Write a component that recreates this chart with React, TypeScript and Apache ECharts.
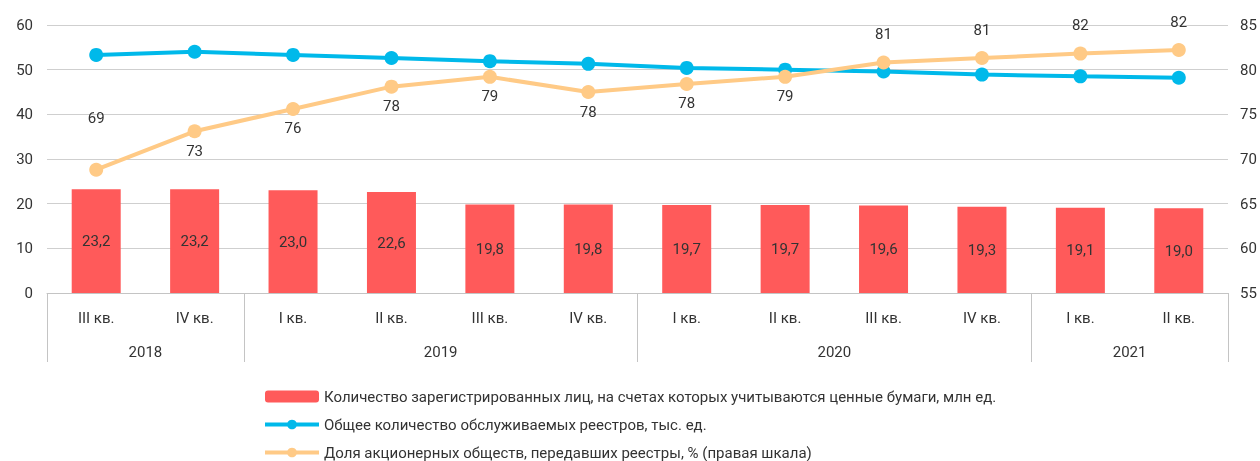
import React, { useEffect, useRef } from 'react';
import * as echarts from 'echarts';

const quarters = ['III кв.', 'IV кв.', 'I кв.', 'II кв.', 'III кв.', 'IV кв.', 'I кв.', 'II кв.', 'III кв.', 'IV кв.', 'I кв.', 'II кв.'];
const years = ['2018', '2019', '2020', '2021'];
const quartersPerYear = [2, 4, 4, 2];

const holders = [23.2, 23.2, 23.0, 22.6, 19.8, 19.8, 19.7, 19.7, 19.6, 19.3, 19.1, 19.0];
const registries = [53.3, 54.0, 53.3, 52.6, 51.9, 51.3, 50.4, 50.0, 49.6, 48.9, 48.5, 48.2];
const shareJSC = [68.8, 73.1, 75.6, 78.1, 79.2, 77.5, 78.4, 79.2, 80.8, 81.3, 81.8, 82.2];
const shareLabelAbove = [true, false, false, false, false, false, false, false, true, true, true, true];

const seriesNames = [
  'Количество зарегистрированных лиц, на счетах которых учитываются ценные бумаги, млн ед.',
  'Общее количество обслуживаемых реестров, тыс. ед.',
  'Доля акционерных обществ, передавших реестры, % (правая шкала)',
];

const FONT = 'Roboto';
const TEXT = '#333333';
const GRIDC = '#cfcfcf';
const AXISC = '#c4c4c4';

export default function App() {
  const ref = useRef<HTMLDivElement>(null);
  useEffect(() => {
    if (!ref.current) return;
    const chart = echarts.init(ref.current, null, { renderer: 'svg' });

    const boundaries: number[] = [0];
    quartersPerYear.forEach((c) => boundaries.push(boundaries[boundaries.length - 1] + c));
    const centers = quartersPerYear.map((c, i) => boundaries[i] + c / 2);

    chart.setOption({
      animation: false,
      textStyle: { fontFamily: FONT },
      grid: { left: 47, right: 32, top: 25, bottom: 168, containLabel: false },
      legend: {
        orient: 'vertical',
        left: 263,
        top: 389,
        height: 200,
        padding: 0,
        itemWidth: 54,
        itemHeight: 12,
        itemGap: 13,
        lineStyle: { width: 4 },
        textStyle: { fontFamily: FONT, fontSize: 15, color: TEXT, lineHeight: 12 },
        data: seriesNames,
      },
      xAxis: [
        {
          type: 'category',
          data: quarters,
          axisLine: { show: true, lineStyle: { color: AXISC, width: 1 } },
          axisTick: { show: false },
          axisLabel: { color: TEXT, fontSize: 15, fontFamily: FONT, margin: 17 },
        },
        {
          type: 'value',
          min: 0,
          max: boundaries[boundaries.length - 1],
          position: 'bottom',
          axisLine: { show: false },
          splitLine: { show: false },
          axisTick: { show: true, customValues: boundaries, length: 69, lineStyle: { color: AXISC } },
          axisLabel: {
            customValues: centers,
            color: TEXT,
            fontSize: 15,
            fontFamily: FONT,
            margin: 51,
            formatter: (v: number) => {
              const i = centers.indexOf(v);
              return i >= 0 ? years[i] : '';
            },
          },
        },
      ],
      yAxis: [
        {
          type: 'value',
          min: 0,
          max: 60,
          interval: 10,
          axisLine: { show: false },
          axisTick: { show: false },
          splitLine: { lineStyle: { color: GRIDC } },
          axisLabel: { color: TEXT, fontSize: 15, fontFamily: FONT, margin: 14 },
        },
        {
          type: 'value',
          min: 55,
          max: 85,
          interval: 5,
          position: 'right',
          axisLine: { show: false },
          axisTick: { show: false },
          splitLine: { show: false },
          axisLabel: { color: TEXT, fontSize: 15, fontFamily: FONT, margin: 12 },
        },
      ],
      series: [
        {
          name: seriesNames[0],
          type: 'bar',
          xAxisIndex: 0,
          yAxisIndex: 0,
          data: holders,
          barWidth: 49,
          itemStyle: { color: '#FF5A5A' },
          label: {
            show: true,
            position: 'inside',
            color: TEXT,
            fontSize: 15,
            fontFamily: FONT,
            formatter: (p: any) => p.value.toFixed(1).replace('.', ','),
          },
        },
        {
          name: seriesNames[1],
          type: 'line',
          xAxisIndex: 0,
          yAxisIndex: 0,
          data: registries,
          symbol: 'circle',
          symbolSize: 14,
          lineStyle: { color: '#00B9EA', width: 4 },
          itemStyle: { color: '#00B9EA' },
          z: 3,
        },
        {
          name: seriesNames[2],
          type: 'line',
          xAxisIndex: 0,
          yAxisIndex: 1,
          symbol: 'circle',
          symbolSize: 14,
          lineStyle: { color: '#FFCA86', width: 4 },
          itemStyle: { color: '#FFCA86' },
          z: 4,
          data: shareJSC.map((v, i) => ({
            value: v,
            label: {
              show: true,
              position: shareLabelAbove[i] ? 'top' : 'bottom',
              distance: i === 0 ? 37 : shareLabelAbove[i] ? 14 : 5,
              color: TEXT,
              fontSize: 15,
              fontFamily: FONT,
              formatter: (p: any) => String(Math.round(p.value)),
            },
          })),
        },
      ],
    });
    return () => chart.dispose();
  }, []);
  return <div ref={ref} style={{ position: 'fixed', left: 0, top: 0, width: 1260, height: 461 }} />;
}
